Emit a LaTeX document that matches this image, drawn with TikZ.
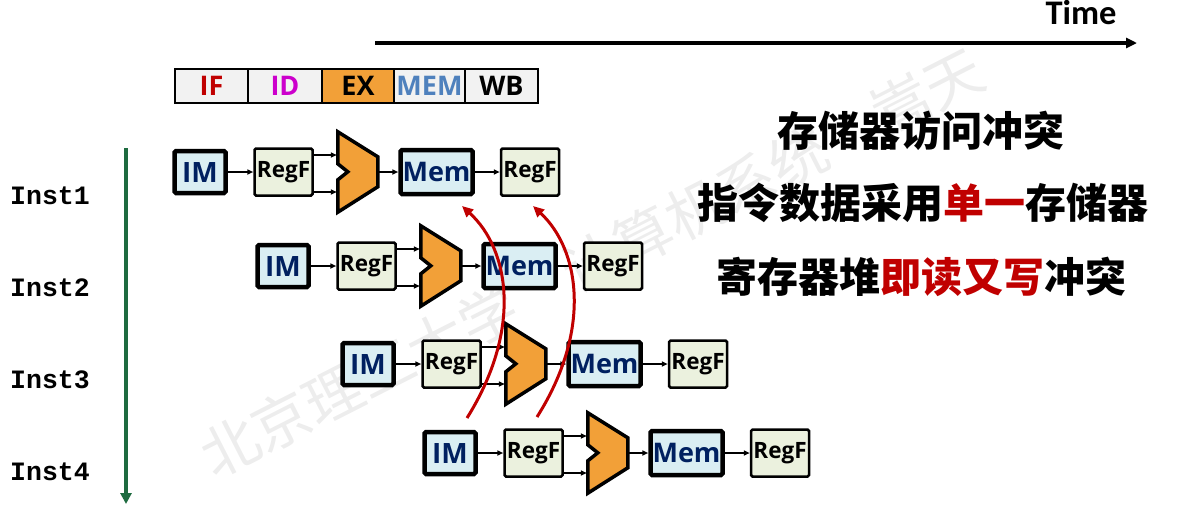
\documentclass[tikz,border=0pt]{standalone}
\usepackage{fontspec}
\setmainfont{Open Sans}
\newfontfamily\cjk{Noto Sans CJK SC}
\newfontfamily\carl{Carlito}
\newfontfamily\monof{Liberation Mono}
\usetikzlibrary{arrows.meta,calc}
\definecolor{navy}{HTML}{002060}
\definecolor{lblue}{HTML}{DAEEF3}
\definecolor{lgreen}{HTML}{EBF1DE}
\definecolor{aluor}{HTML}{F2A038}
\definecolor{sgray}{HTML}{F2F2F2}
\definecolor{ifred}{HTML}{C00000}
\definecolor{idmag}{HTML}{CC00CC}
\definecolor{memblue}{HTML}{4F81BD}
\definecolor{cred}{HTML}{C00000}
\definecolor{dgreen}{HTML}{1E6B40}
\begin{document}
\begin{tikzpicture}[x=1pt,y=-1pt,
  box/.style={draw, rounded corners=1.5pt, inner sep=0pt},
  imbox/.style={box, line width=4.5pt, fill=lblue, text=navy, minimum width=51pt, minimum height=42pt, font=\fontsize{28}{28}\selectfont\bfseries},
  membox/.style={imbox, minimum width=72pt, minimum height=44pt, font=\fontsize{27}{27}\selectfont\bfseries},
  rfbox/.style={box, line width=2.5pt, fill=lgreen, minimum width=58pt, minimum height=47pt, font=\fontsize{22.5}{22.5}\selectfont\bfseries},
  alubox/.style={inner sep=0pt, minimum width=40pt, minimum height=80pt},
  alushape/.style={draw, line width=3.5pt, fill=aluor, line join=miter},
  arr/.style={line width=1.6pt, -{Triangle[length=6pt,width=5pt]}},
  stage/.style={draw, line width=2.5pt, fill=sgray, minimum height=34pt, inner sep=0pt, font=\fontsize{27}{27}\selectfont\bfseries},
  inst/.style={anchor=base, inner sep=0pt, font=\fontsize{26.5}{26.5}\monof\bfseries},
  cjkt/.style={inner sep=0pt, font=\fontsize{41}{41}\cjk\bfseries},
  hz/.style={line width=3pt, cred, -{Triangle[length=11pt,width=10pt]}}
]
\useasboundingbox (0,0) rectangle (1177,512);
% watermark
\node[rotate=27, text=black!7, inner sep=0pt, font=\fontsize{58}{58}\cjk] (wm) at (591.5,262.5) {北京理工大学\hspace{1em}计算机系统\hspace{1em}嵩天};
% time axis
\coordinate (t0) at (375,43);
\coordinate (t1) at (1137,43);
\draw[line width=3.5pt, -{Triangle[length=11pt,width=10pt]}] (t0) -- (t1);
\node[anchor=base, inner sep=0pt, font=\fontsize{34.5}{34.5}\carl\bfseries] (time) at (1081,24) {Time};
% stage bar
\node[stage, minimum width=73pt, text=ifred] (sIF) at (211.5,86) {IF};
\node[stage, minimum width=74pt, text=idmag] (sID) at (285,86) {ID};
\node[stage, minimum width=72pt, fill=aluor] (sEX) at (358,86) {EX};
\node[stage, minimum width=71pt, text=memblue] (sMEM) at (429.5,86) {MEM};
\node[stage, minimum width=73pt] (sWB) at (501.5,86) {WB};
% instruction labels
\node[inst] (i1) at (50,204) {Inst1};
\node[inst] (i2) at (50,296) {Inst2};
\node[inst] (i3) at (50,388) {Inst3};
\node[inst] (i4) at (50,480) {Inst4};
\coordinate (g0) at (126,148);
\coordinate (g1) at (126,504);
\draw[line width=3.2pt, dgreen, -{Triangle[length=11pt,width=11pt]}] (g0) -- (g1);
% pipeline rows
\foreach \r/\L/\C in {1/172/172,2/255/266,3/340/364,4/422/453}{
  \node[imbox] (im\r) at (\L+28,\C) {IM};
  \node[rfbox] (rfa\r) at (\L+111.5,\C) {RegF};
  \node[alubox] (alu\r) at (\L+186,\C) {};
  \node[membox] (mem\r) at (\L+264.5,\C) {Mem};
  \node[rfbox] (rfb\r) at (\L+358,\C) {RegF};
  \draw[alushape] (alu\r.north west) -- ($(alu\r.north west)+(40,25)$) -- ($(alu\r.north west)+(40,55)$) -- (alu\r.south west) -- ($(alu\r.north west)+(0,48)$) -- ($(alu\r.north west)+(10,40)$) -- ($(alu\r.north west)+(0,32)$) -- cycle;
  \draw[arr] (im\r.east) -- (rfa\r.west);
  \draw[arr] ([yshift=17pt]rfa\r.east) -- ([yshift=17pt,xshift=-1pt]alu\r.west);
  \draw[arr] ([yshift=-20pt]rfa\r.east) -- ([yshift=-20pt,xshift=-1pt]alu\r.west);
  \draw[arr] ([xshift=1pt]alu\r.east) -- (mem\r.west);
  \draw[arr] (mem\r.east) -- (rfb\r.west);
}
% right-hand text
\node[cjkt] (l1) at (921,131) {存储器访问冲突};
\node[cjkt] (l2) at (923,202.5) {指令数据采用\textcolor{cred}{单一}存储器};
\node[cjkt] (l3) at (921,276.5) {寄存器堆\textcolor{cred}{即读又写}冲突};
% hazard arrows
\coordinate (ha0) at (467,418);
\coordinate (ha1) at (462,206);
\coordinate (hb0) at (537,417);
\coordinate (hb1) at (533,206);
\draw[hz] (ha0) .. controls (522,330) and (510,250) .. (ha1);
\draw[hz] (hb0) .. controls (592,330) and (580,250) .. (hb1);
\end{tikzpicture}
\end{document}
